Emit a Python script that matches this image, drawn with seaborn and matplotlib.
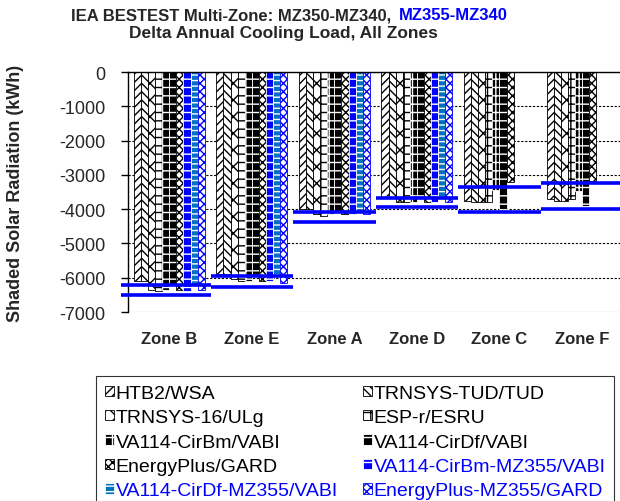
import numpy as np
import pandas as pd
import seaborn as sns
import matplotlib.pyplot as plt
from matplotlib.patches import Patch

# data
zones = ["Zone B", "Zone E", "Zone A", "Zone D", "Zone C", "Zone F"]
programs = ["HTB2/WSA", "TRNSYS-TUD/TUD", "TRNSYS-16/ULg", "ESP-r/ESRU",
            "VA114-CirBm/VABI", "VA114-CirDf/VABI", "EnergyPlus/GARD",
            "VA114-CirBm-MZ355/VABI", "VA114-CirDf-MZ355/VABI",
            "EnergyPlus-MZ355/GARD"]

htb2 = [-6100, -5900, -4000, -3650, -3750, -3700]
trnsys_tud = [-6100, -5900, -4000, -3650, -3800, -3750]
trnsys_16 = [-6350, -6050, -4150, -3800, -3800, -3750]
esp_r = [-6400, -6100, -4200, -3800, -3800, -3700]
cirbm = [-6350, -6100, -4150, -3800, -3450, -3470]
cirdf = [-6200, -5950, -4050, -3700, -4000, -3900]
eplus = [-6350, -6100, -4150, -3800, -3200, -3170]
cirbm_355 = [-6400, -6100, -4150, -3800, np.nan, np.nan]
cirdf_355 = [-6250, -5950, -4050, -3700, np.nan, np.nan]
eplus_355 = [-6350, -6150, -4150, -3800, np.nan, np.nan]

# blue range lines
range_upper = [-6200, -5950, -4070, -3680, -3340, -3250]
range_lower = [-6500, -6270, -4380, -3950, -4070, -4010]

series = [htb2, trnsys_tud, trnsys_16, esp_r, cirbm, cirdf, eplus,
          cirbm_355, cirdf_355, eplus_355]

BLUE = "#0000FF"
# (facecolor, edgecolor, hatch) per program
styles = [
    ("white", "black", "////"),
    ("white", "black", "\\\\\\\\"),
    ("white", "black", "xx"),
    ("white", "black", "++"),
    ("black", "white", "++"),
    ("black", "white", "--"),
    ("white", "black", "xxxx"),
    (BLUE, "white", "--"),
    ("#0070C0", "white", "---"),
    ("white", BLUE, "xxxx"),
]
text_colors = ["black"] * 7 + [BLUE] * 3

rows = []
for prog, vals in zip(programs, series):
    for z, v in zip(zones, vals):
        rows.append({"zone": z, "program": prog, "value": v})
df = pd.DataFrame(rows).dropna()

sns.set_style("white")
plt.rcParams["font.family"] = ["Liberation Sans", "DejaVu Sans"]
plt.rcParams["hatch.linewidth"] = 1.0
plt.rcParams["axes.unicode_minus"] = False

fig = plt.figure(figsize=(6.2, 5.02), dpi=100)
ax = fig.add_axes([128 / 620, 1 - 313 / 502, 492 / 620, 240 / 502])

sns.barplot(data=df, x="zone", y="value", hue="program", hue_order=programs,
            order=zones, width=0.86, errorbar=None, legend=False, ax=ax)

for cont, (fc, ec, h) in zip(ax.containers, styles):
    for bar in cont:
        bar.set_facecolor(fc)
        bar.set_edgecolor(ec)
        bar.set_hatch(h)
        bar.set_linewidth(0.6)

pos = np.arange(len(zones))
starts = pos - 0.5
starts[0] -= 0.08
ax.hlines(range_upper, starts, pos + 0.5, color=BLUE, lw=2.6, zorder=5, clip_on=False)
ax.hlines(range_lower, starts, pos + 0.5, color=BLUE, lw=2.6, zorder=5, clip_on=False)

ax.set_ylim(-7000, 0)
ax.set_xlim(-0.5, 5.46)
ax.set_yticks(range(-7000, 1, 1000))
ax.yaxis.grid(True, color="black", linestyle=(0, (2, 1.5)), linewidth=0.8)
ax.set_axisbelow(True)
for s in ["right", "bottom"]:
    ax.spines[s].set_visible(False)
ax.spines["left"].set_color("black")
ax.spines["top"].set_color("black")
ax.spines["left"].set_linewidth(1.0)
ax.spines["top"].set_linewidth(1.0)

ax.tick_params(axis="y", left=True, length=5, width=1, pad=11, labelsize=13, color="black")
ax.tick_params(axis="x", length=0, pad=14)
for lab in ax.get_xticklabels():
    lab.set_fontweight("bold")
    lab.set_fontsize(12)
ax.set_xlabel("")
ax.set_ylabel("")

fig.text(16 / 620, 1 - 193 / 502, "Shaded Solar Radiation (kWh)", rotation=90,
         ha="center", va="center", fontsize=13, fontweight="bold")

fig.text(391 / 620, 1 - 16 / 502, "IEA BESTEST Multi-Zone: MZ350-MZ340,",
         ha="right", va="center", fontsize=12, fontweight="bold")
fig.text(399 / 620, 1 - 16 / 502, "MZ355-MZ340", color=BLUE,
         ha="left", va="center", fontsize=12, fontweight="bold")
fig.text(283 / 620, 1 - 34 / 502, "Delta Annual Cooling Load, All Zones",
         ha="center", va="center", fontsize=12.5, fontweight="bold")

# legend, filled row by row
handles = [Patch(facecolor=fc, edgecolor=ec, hatch=h, linewidth=0.6)
           for fc, ec, h in styles]
order = [0, 2, 4, 6, 8, 1, 3, 5, 7, 9]
leg = fig.legend([handles[i] for i in order], [programs[i] for i in order],
                 loc="upper left", bbox_to_anchor=(96 / 620, 1 - 377 / 502),
                 ncol=2, fontsize=14, frameon=True, fancybox=False,
                 edgecolor="black", handlelength=0.45, handleheight=0.45,
                 handletextpad=0.1, columnspacing=1.3, labelspacing=0.38,
                 borderpad=0.45, borderaxespad=0)
leg.get_frame().set_linewidth(0.8)
for t, i in zip(leg.get_texts(), order):
    t.set_color(text_colors[i])

fig.savefig("out.png", dpi=100)
